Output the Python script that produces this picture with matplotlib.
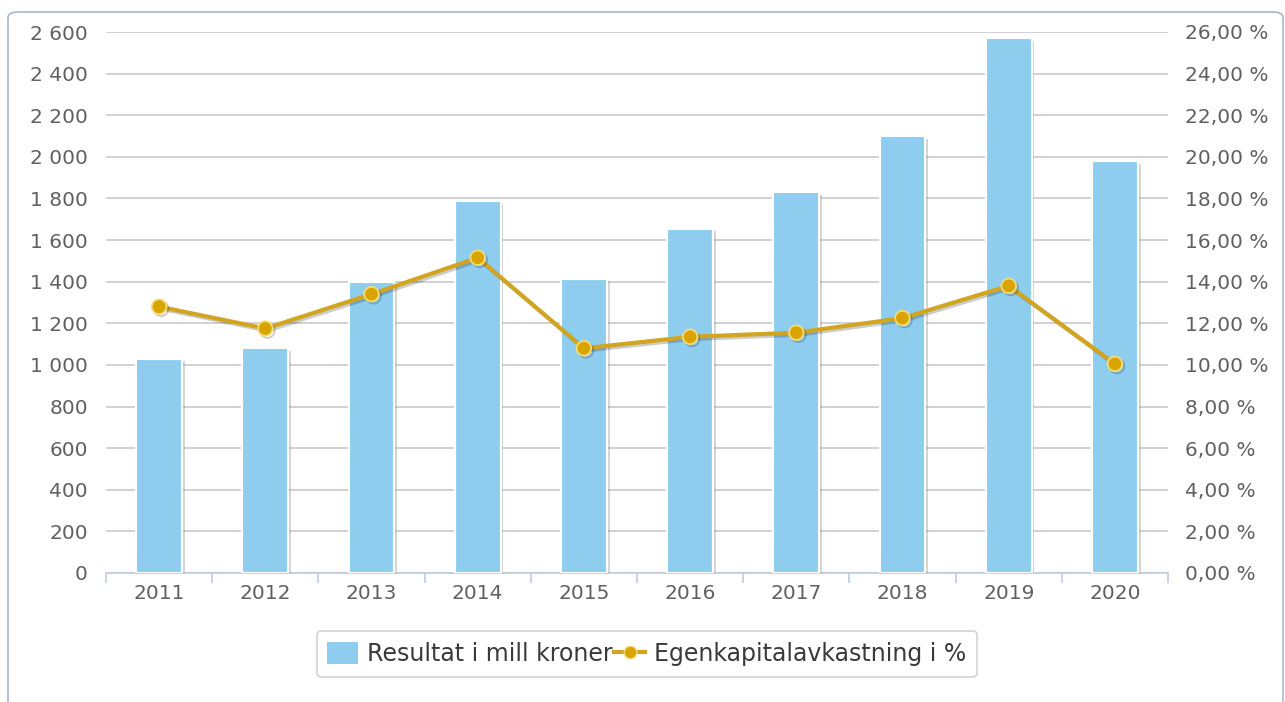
import matplotlib
matplotlib.use("Agg")
import matplotlib.pyplot as plt
import matplotlib.patheffects as pe
from matplotlib.patches import FancyBboxPatch
from matplotlib.ticker import FuncFormatter, MultipleLocator
from matplotlib.lines import Line2D
from matplotlib.patches import Patch

plt.rcParams["font.family"] = ["DejaVu Sans"]

years = ["2011", "2012", "2013", "2014", "2015", "2016", "2017", "2018", "2019", "2020"]
resultat = [1030, 1080, 1400, 1790, 1415, 1655, 1830, 2100, 2570, 1980]
egenkapital = [12.8, 11.75, 13.4, 15.15, 10.8, 11.35, 11.55, 12.25, 13.8, 10.05]
bar_label = "Resultat i mill kroner"
line_label = "Egenkapitalavkastning i %"

W, H = 1285, 702
fig = plt.figure(figsize=(W / 100, H / 100), dpi=100)
fig.patch.set_facecolor("white")

# outer frame
frame = FancyBboxPatch((8 / W, -0.5), (1283 - 8) / W, 1 - 12 / H + 0.5,
                       boxstyle="round,pad=0,rounding_size=0.008",
                       transform=fig.transFigure, facecolor="none",
                       edgecolor="#a9b6cc", linewidth=1.2, clip_on=False)
fig.patches.append(frame)

left, right = 106 / W, 1168 / W
bottom, top = 1 - 573 / H, 1 - 32 / H
ax = fig.add_axes([left, bottom, right - left, top - bottom])
ax2 = ax.twinx()

x = list(range(len(years)))
bar_color = "#8fcdef"
bars = ax.bar(x, resultat, width=0.43, color=bar_color, edgecolor="white",
              linewidth=1.5, zorder=3)
for b in bars:
    b.set_path_effects([pe.SimplePatchShadow(offset=(2, -2), shadow_rgbFace="#888888", alpha=0.35),
                        pe.Normal()])

line_color = "#d2a520"
ax2.plot(x, egenkapital, color=line_color, linewidth=3, zorder=4,
         marker="o", markersize=10.5, markerfacecolor="#d9a400",
         markeredgecolor="#f3dc7a", markeredgewidth=1.3,
         path_effects=[pe.SimpleLineShadow(offset=(1.5, -1.5), alpha=0.2), pe.Normal()])

ax.set_xlim(-0.5, len(years) - 0.5)
ax.set_ylim(0, 2600)
ax2.set_ylim(0, 26)
ax.yaxis.set_major_locator(MultipleLocator(200))
ax2.yaxis.set_major_locator(MultipleLocator(2))

def fmt_left(v, pos):
    return f"{int(round(v)):,}".replace(",", " ")

def fmt_right(v, pos):
    return f"{v:.2f}".replace(".", ",") + " %"

ax.yaxis.set_major_formatter(FuncFormatter(fmt_left))
ax2.yaxis.set_major_formatter(FuncFormatter(fmt_right))

ax.grid(axis="y", color="#c8c8d0", linewidth=1.2, zorder=0)
ax.set_axisbelow(True)

for a in (ax, ax2):
    for s in a.spines.values():
        s.set_visible(False)
ax.spines["bottom"].set_visible(True)
ax.spines["bottom"].set_color("#c0cbe0")
ax.spines["bottom"].set_linewidth(1.2)

tick_color = "#606060"
fs = 14.5
ax.set_xticks(x)
ax.set_xticklabels(years)
ax.tick_params(axis="x", length=0, pad=8, labelsize=fs, labelcolor=tick_color)
ax.set_xticks([i + 0.5 for i in range(-1, len(years))], minor=True)
ax.tick_params(axis="x", which="minor", length=7, color="#c0cbe0", width=1.2)
ax.tick_params(axis="y", length=0, pad=13, labelsize=fs, labelcolor=tick_color)
ax2.tick_params(axis="y", length=0, pad=12, labelsize=fs, labelcolor=tick_color)

handles = [Patch(facecolor=bar_color, edgecolor="none"),
           Line2D([0], [0], color=line_color, linewidth=3, marker="o", markersize=9,
                  markerfacecolor="#d9a400", markeredgecolor="#f3dc7a")]
leg = fig.legend(handles, [bar_label, line_label], loc="center",
                 bbox_to_anchor=(647 / W, 1 - 654 / H), ncol=2, frameon=True,
                 fontsize=17, handlelength=1.3, handleheight=1.1, columnspacing=0.05,
                 handletextpad=0.4, borderpad=0.45, borderaxespad=0, fancybox=True)
leg.get_frame().set_edgecolor("#c8c8c8")
leg.get_frame().set_linewidth(1.2)
for t in leg.get_texts():
    t.set_color("#3a3a3a")

fig.savefig("out.png", dpi=100, facecolor="white")
